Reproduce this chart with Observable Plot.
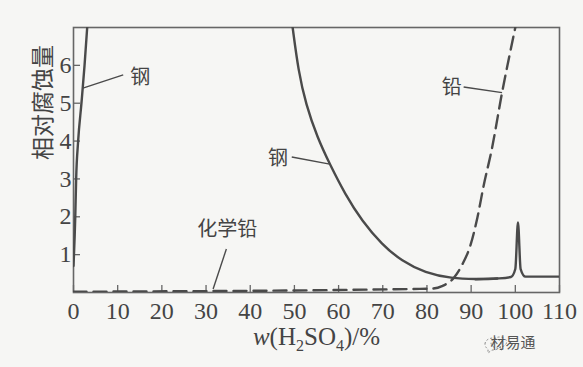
<!DOCTYPE html>
<html><head><meta charset="utf-8">
<script src="https://cdn.jsdelivr.net/npm/d3@7"></script>
<script src="https://cdn.jsdelivr.net/npm/@observablehq/plot@0.6"></script>
<style>
html,body{margin:0;padding:0;background:#f6f6f4;}
#chart{position:relative;width:583px;height:367px;overflow:hidden;}
</style></head><body><div id="chart"></div>
<script>
// ---- data ----
const xTicks = [0,10,20,30,40,50,60,70,80,90,100,110];
const yTicks = [1,2,3,4,5,6];
const xTitle = "w(H2SO4)/%";
const yTitle = "相对腐蚀量";

// steel, dilute end (steep rise at left)
const steelLowX = [0, 0.4, 0.6, 1.05, 1.8, 2.5, 3.1];
const steelLowY = [0.7, 2, 3, 4, 5, 6, 7];

// steel, concentrated end: decay branch
const steelHighX = [49.6, 50.9, 52.6, 55.2, 58.0, 61.5, 65.3, 69.8, 74.3, 79.6, 85.6, 91, 95.9];
const steelHighY = [7.0, 5.85, 4.97, 4.09, 3.39, 2.59, 1.89, 1.27, 0.83, 0.52, 0.37, 0.35, 0.37];
// steel, concentrated end: peak near 100 %
const steelPeakX = [91, 95.9, 99, 100, 100.6, 101.2, 102.3, 106, 110];
const steelPeakY = [0.35, 0.37, 0.41, 0.62, 1.85, 0.62, 0.42, 0.42, 0.42];

// chemical lead
const leadX = [0, 80.8, 83.4, 86.1, 88, 89.9, 91.4, 92.9, 94.6, 97, 100];
const leadY = [0.02, 0.10, 0.17, 0.39, 0.74, 1.27, 1.97, 2.86, 3.74, 5.28, 7.0];

// annotations
const noteText = ["钢", "钢", "化学铅", "铅"];
const noteX = [15.1, 46.3, 34.8, 85.6];
const noteY = [5.67, 3.53, 1.65, 5.42];
const leaderX1 = [11.25, 49.4, 34.6, 88.3];
const leaderY1 = [5.75, 3.58, 1.15, 5.43];
const leaderX2 = [2.13, 58.0, 31.6, 97.0];
const leaderY2 = [5.40, 3.39, 0.09, 5.28];

const watermark = "材易通";

// ---- build tables ----
const steelLow = steelLowX.map((x, i) => ({x, y: steelLowY[i]}));
const steelHigh = steelHighX.map((x, i) => ({x, y: steelHighY[i]}));
const steelPeak = steelPeakX.map((x, i) => ({x, y: steelPeakY[i]}));
const lead = leadX.map((x, i) => ({x, y: leadY[i]}));
const notes = noteText.map((t, i) => ({t, x: noteX[i], y: noteY[i]}));
const leaders = leaderX1.map((x1, i) => ({x1, y1: leaderY1[i], x2: leaderX2[i], y2: leaderY2[i]}));

const ink = "#4a4a4a";
const cjk = "'Noto Sans CJK SC', sans-serif";
const serif = "'Liberation Serif', serif";

const chart = Plot.plot({
  width: 583,
  height: 367,
  marginLeft: 73,
  marginRight: 24,
  marginTop: 27,
  marginBottom: 75,
  style: {background: "transparent", fontFamily: serif, fontSize: "24px", color: "#444"},
  x: {domain: [0, 110]},
  y: {domain: [0, 7]},
  marks: [
    Plot.frame({stroke: "#666", strokeWidth: 1.6}),
    Plot.axisX({ticks: xTicks, tickFormat: d => String(d), tickSize: -7, tickPadding: 16, label: null, stroke: "#666", strokeWidth: 1.3, fill: "#444", fontSize: 24, fontFamily: serif}),
    Plot.axisY({ticks: yTicks, tickFormat: d => String(d), tickSize: -7, tickPadding: 9, label: null, stroke: "#666", strokeWidth: 1.3, fill: "#444", fontSize: 24, fontFamily: serif}),
    Plot.line(steelLow, {x: "x", y: "y", stroke: ink, strokeWidth: 2.4, curve: "monotone-x", clip: true}),
    Plot.line(steelHigh, {x: "x", y: "y", stroke: ink, strokeWidth: 2.4, curve: "basis", clip: true}),
    Plot.line(steelPeak, {x: "x", y: "y", stroke: ink, strokeWidth: 2.4, curve: "monotone-x", clip: true}),
    Plot.line(lead, {x: "x", y: "y", stroke: ink, strokeWidth: 2.4, strokeDasharray: "13,7", curve: "monotone-x", clip: true}),
    Plot.link(leaders, {x1: "x1", y1: "y1", x2: "x2", y2: "y2", stroke: ink, strokeWidth: 1.4}),
    Plot.text(notes, {x: "x", y: "y", text: "t", fontFamily: cjk, fontSize: 20, fill: "#444"}),
    Plot.text([yTitle], {frameAnchor: "left", dx: -30, rotate: -90, fontFamily: cjk, fontSize: 23, fill: "#444"}),
    Plot.text([xTitle], {frameAnchor: "bottom", dy: 52, fontSize: 25, fontFamily: serif, fill: "#444", className: "xtitle"})
  ]
});

document.getElementById("chart").appendChild(chart);

// rich-text x title: italic w, subscripts
const svg = d3.select(chart);
svg.selectAll(".xtitle text").each(function() {
  const el = d3.select(this);
  el.text(null);
  el.append("tspan").attr("font-style", "italic").text("w");
  el.append("tspan").text("(H");
  el.append("tspan").attr("font-size", "16").attr("dy", "6").text("2");
  el.append("tspan").attr("dy", "-6").text("SO");
  el.append("tspan").attr("font-size", "16").attr("dy", "6").text("4");
  el.append("tspan").attr("dy", "-6").text(")/%");
});

// watermark
const wm = svg.append("g").attr("transform", "translate(483,342)");
wm.append("path").attr("d", "M2,2 a8,6 0 1,1 7,6 l-4,3 l0,-4 a8,6 0 0,1 -3,-5").attr("fill", "none").attr("stroke", "#888").attr("stroke-width", 1).attr("stroke-dasharray", "2,2");
wm.append("path").attr("d", "M11,-3 a7,5 0 1,1 6,8 l2,3 l-5,-2 a7,5 0 0,1 -3,-9").attr("fill", "none").attr("stroke", "#888").attr("stroke-width", 1).attr("stroke-dasharray", "2,2");
wm.append("text").attr("x", 30).attr("y", 6).attr("font-family", cjk).attr("font-size", 15).attr("fill", "#555").text(watermark);
</script>
</body></html>
